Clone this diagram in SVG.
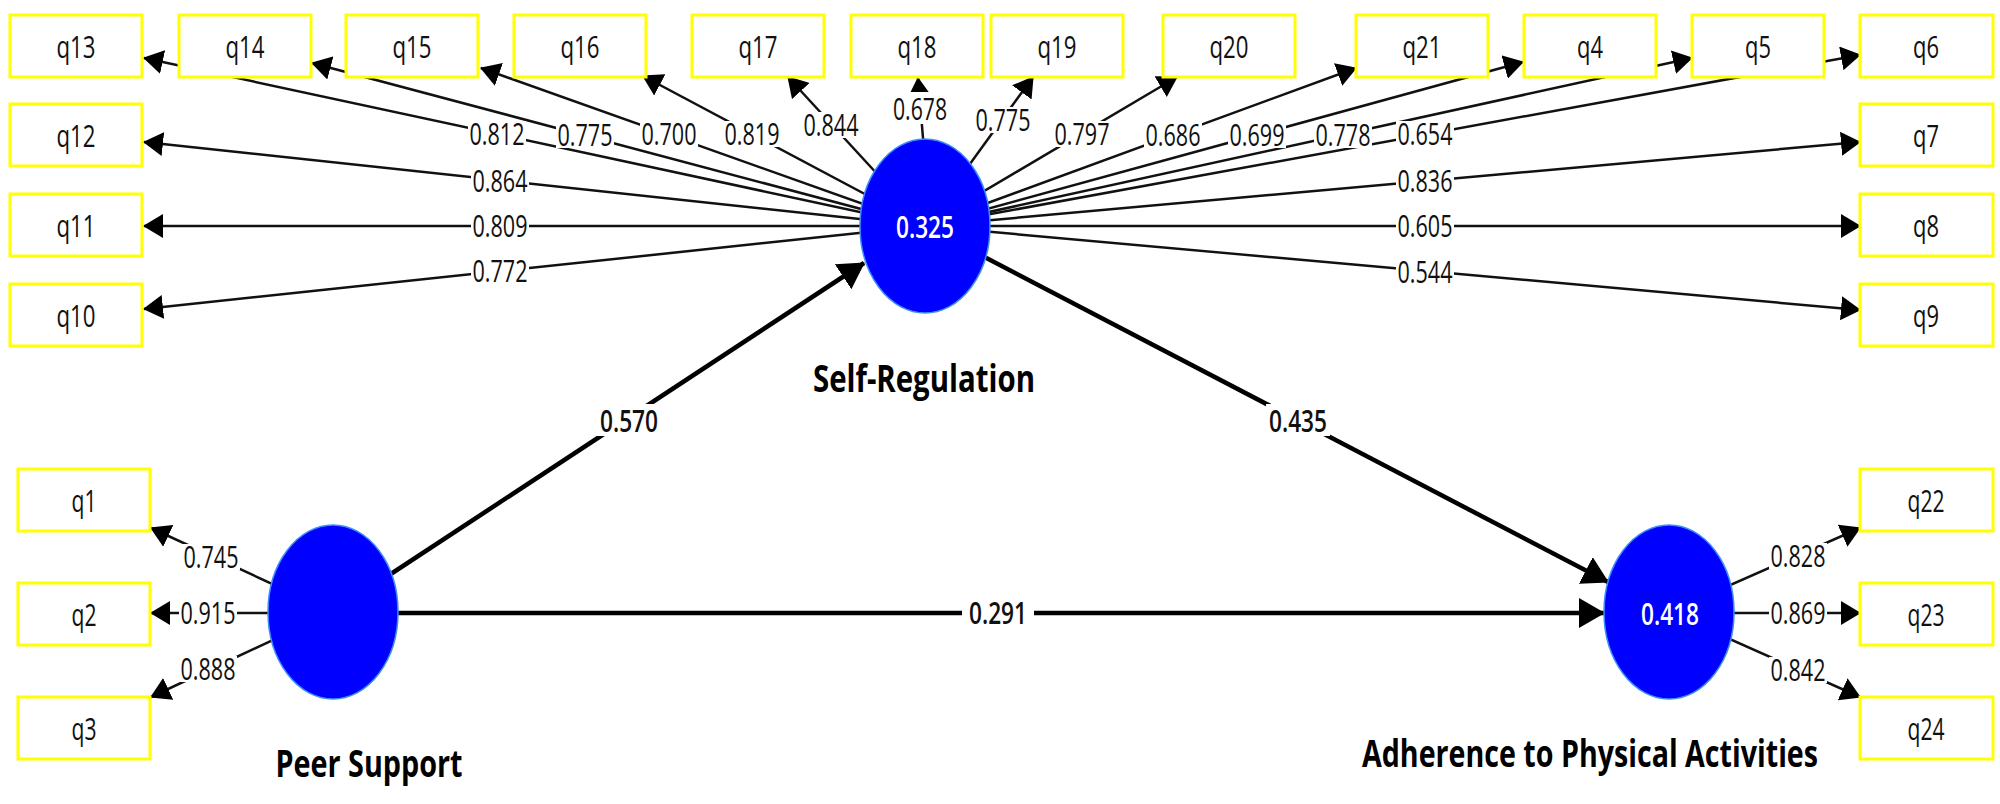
<svg xmlns="http://www.w3.org/2000/svg" width="2000" height="804" viewBox="0 0 2000 804">
<style>
.box{fill:#fff;stroke:#ffff00;stroke-width:3}
.lv{fill:#0000ff;stroke:#3c8cff;stroke-width:1.5}
.ln{stroke:#111;stroke-width:2.5;fill:none;marker-end:url(#ah)}
.sp{stroke:#000;stroke-width:4.5;fill:none;marker-end:url(#ahb)}
.bg{fill:#fff}
text{font-family:"Open Sans","Noto Sans","Liberation Sans",sans-serif;fill:#111}
.t{font-size:31px;text-anchor:middle}
.n{font-size:31px;text-anchor:middle}
.s{font-size:31px;font-weight:600;text-anchor:middle}
.v{font-size:31px;font-weight:600;fill:#fff;text-anchor:middle}
.name{font-size:38px;font-weight:700;text-anchor:middle;fill:#000}
</style>
<defs>
<marker id="ah" markerUnits="userSpaceOnUse" viewBox="0 0 20 24" markerWidth="20" markerHeight="24" refX="19" refY="12" orient="auto"><path d="M0,0 L20,12 L0,24 z" fill="#000"/></marker>
<marker id="ahb" markerUnits="userSpaceOnUse" viewBox="0 0 26 30" markerWidth="26" markerHeight="30" refX="25" refY="15" orient="auto"><path d="M0,0 L26,15 L0,30 z" fill="#000"/></marker>
</defs>
<rect width="2000" height="804" fill="#fff"/>
<g id="connectors">
<line class="ln" x1="925" y1="226" x2="144" y2="58"/>
<line class="ln" x1="925" y1="226" x2="312" y2="63"/>
<line class="ln" x1="925" y1="226" x2="481" y2="68"/>
<line class="ln" x1="925" y1="226" x2="643" y2="76"/>
<line class="ln" x1="925" y1="226" x2="788" y2="77"/>
<line class="ln" x1="924" y1="150" x2="918" y2="78"/>
<line class="ln" x1="925" y1="226" x2="1033" y2="77"/>
<line class="ln" x1="925" y1="226" x2="1177" y2="77"/>
<line class="ln" x1="925" y1="226" x2="1356" y2="68"/>
<line class="ln" x1="925" y1="226" x2="1523" y2="62"/>
<line class="ln" x1="925" y1="226" x2="1692" y2="58"/>
<line class="ln" x1="925" y1="226" x2="1860" y2="55"/>
<line class="ln" x1="925" y1="226" x2="1860" y2="142"/>
<line class="ln" x1="925" y1="226" x2="1860" y2="226"/>
<line class="ln" x1="925" y1="226" x2="1860" y2="310"/>
<line class="ln" x1="925" y1="226" x2="144" y2="142"/>
<line class="ln" x1="925" y1="226" x2="144" y2="226"/>
<line class="ln" x1="925" y1="226" x2="144" y2="309"/>
<line class="ln" x1="333" y1="612" x2="151" y2="528"/>
<line class="ln" x1="333" y1="613" x2="151" y2="613"/>
<line class="ln" x1="333" y1="612" x2="151" y2="697"/>
<line class="ln" x1="1669" y1="612" x2="1860" y2="528"/>
<line class="ln" x1="1669" y1="613" x2="1860" y2="613"/>
<line class="ln" x1="1669" y1="612" x2="1860" y2="697"/>
<line class="sp" x1="333" y1="612" x2="864" y2="263"/>
<line class="sp" x1="925" y1="226" x2="1608" y2="582"/>
<line class="sp" x1="333" y1="613" x2="1604" y2="613"/>
<g id="labels">
<rect class="bg" x="468" y="121" width="58" height="26"/><text class="n" x="497" y="145" textLength="55" lengthAdjust="spacingAndGlyphs">0.812</text>
<rect class="bg" x="556" y="122" width="58" height="26"/><text class="n" x="585" y="146" textLength="55" lengthAdjust="spacingAndGlyphs">0.775</text>
<rect class="bg" x="640" y="121" width="58" height="26"/><text class="n" x="669" y="145" textLength="55" lengthAdjust="spacingAndGlyphs">0.700</text>
<rect class="bg" x="723" y="121" width="58" height="26"/><text class="n" x="752" y="145" textLength="55" lengthAdjust="spacingAndGlyphs">0.819</text>
<rect class="bg" x="802" y="112" width="58" height="26"/><text class="n" x="831" y="136" textLength="55" lengthAdjust="spacingAndGlyphs">0.844</text>
<rect class="bg" x="891" y="92" width="58" height="32"/><text class="n" x="920" y="120" textLength="54" lengthAdjust="spacingAndGlyphs">0.678</text>
<rect class="bg" x="974" y="107" width="58" height="26"/><text class="n" x="1003" y="131" textLength="55" lengthAdjust="spacingAndGlyphs">0.775</text>
<rect class="bg" x="1053" y="121" width="58" height="26"/><text class="n" x="1082" y="145" textLength="55" lengthAdjust="spacingAndGlyphs">0.797</text>
<rect class="bg" x="1144" y="122" width="58" height="26"/><text class="n" x="1173" y="146" textLength="55" lengthAdjust="spacingAndGlyphs">0.686</text>
<rect class="bg" x="1228" y="122" width="58" height="26"/><text class="n" x="1257" y="146" textLength="55" lengthAdjust="spacingAndGlyphs">0.699</text>
<rect class="bg" x="1314" y="122" width="58" height="26"/><text class="n" x="1343" y="146" textLength="55" lengthAdjust="spacingAndGlyphs">0.778</text>
<rect class="bg" x="1396" y="121" width="58" height="26"/><text class="n" x="1425" y="145" textLength="55" lengthAdjust="spacingAndGlyphs">0.654</text>
<rect class="bg" x="1396" y="168" width="58" height="26"/><text class="n" x="1425" y="192" textLength="55" lengthAdjust="spacingAndGlyphs">0.836</text>
<rect class="bg" x="1396" y="213" width="58" height="26"/><text class="n" x="1425" y="237" textLength="55" lengthAdjust="spacingAndGlyphs">0.605</text>
<rect class="bg" x="1396" y="259" width="58" height="26"/><text class="n" x="1425" y="283" textLength="55" lengthAdjust="spacingAndGlyphs">0.544</text>
<rect class="bg" x="471" y="168" width="58" height="26"/><text class="n" x="500" y="192" textLength="55" lengthAdjust="spacingAndGlyphs">0.864</text>
<rect class="bg" x="471" y="213" width="58" height="26"/><text class="n" x="500" y="237" textLength="55" lengthAdjust="spacingAndGlyphs">0.809</text>
<rect class="bg" x="471" y="258" width="58" height="26"/><text class="n" x="500" y="282" textLength="55" lengthAdjust="spacingAndGlyphs">0.772</text>
<rect class="bg" x="182" y="544" width="58" height="26"/><text class="n" x="211" y="568" textLength="55" lengthAdjust="spacingAndGlyphs">0.745</text>
<rect class="bg" x="179" y="600" width="58" height="26"/><text class="n" x="208" y="624" textLength="55" lengthAdjust="spacingAndGlyphs">0.915</text>
<rect class="bg" x="179" y="656" width="58" height="26"/><text class="n" x="208" y="680" textLength="55" lengthAdjust="spacingAndGlyphs">0.888</text>
<rect class="bg" x="1769" y="543" width="58" height="26"/><text class="n" x="1798" y="567" textLength="55" lengthAdjust="spacingAndGlyphs">0.828</text>
<rect class="bg" x="1769" y="600" width="58" height="26"/><text class="n" x="1798" y="624" textLength="55" lengthAdjust="spacingAndGlyphs">0.869</text>
<rect class="bg" x="1769" y="657" width="58" height="26"/><text class="n" x="1798" y="681" textLength="55" lengthAdjust="spacingAndGlyphs">0.842</text>
<rect class="bg" x="597" y="404" width="64" height="32"/><text class="s" x="629" y="432" textLength="58" lengthAdjust="spacingAndGlyphs">0.570</text>
<rect class="bg" x="1266" y="404" width="64" height="32"/><text class="s" x="1298" y="432" textLength="58" lengthAdjust="spacingAndGlyphs">0.435</text>
<rect class="bg" x="962" y="597" width="72" height="32"/><text class="s" x="998" y="624" textLength="58" lengthAdjust="spacingAndGlyphs">0.291</text>
</g>
</g>
<g id="node-q13"><rect class="box" x="10" y="15" width="132" height="62"/><text class="t" x="76" y="58" textLength="39" lengthAdjust="spacingAndGlyphs">q13</text></g>
<g id="node-q14"><rect class="box" x="179" y="15" width="132" height="62"/><text class="t" x="245" y="58" textLength="39" lengthAdjust="spacingAndGlyphs">q14</text></g>
<g id="node-q15"><rect class="box" x="346" y="15" width="132" height="62"/><text class="t" x="412" y="58" textLength="39" lengthAdjust="spacingAndGlyphs">q15</text></g>
<g id="node-q16"><rect class="box" x="514" y="15" width="132" height="62"/><text class="t" x="580" y="58" textLength="39" lengthAdjust="spacingAndGlyphs">q16</text></g>
<g id="node-q17"><rect class="box" x="692" y="15" width="132" height="62"/><text class="t" x="758" y="58" textLength="39" lengthAdjust="spacingAndGlyphs">q17</text></g>
<g id="node-q18"><rect class="box" x="851" y="15" width="132" height="62"/><text class="t" x="917" y="58" textLength="39" lengthAdjust="spacingAndGlyphs">q18</text></g>
<g id="node-q19"><rect class="box" x="991" y="15" width="132" height="62"/><text class="t" x="1057" y="58" textLength="39" lengthAdjust="spacingAndGlyphs">q19</text></g>
<g id="node-q20"><rect class="box" x="1163" y="15" width="132" height="62"/><text class="t" x="1229" y="58" textLength="39" lengthAdjust="spacingAndGlyphs">q20</text></g>
<g id="node-q21"><rect class="box" x="1356" y="15" width="132" height="62"/><text class="t" x="1422" y="58" textLength="39" lengthAdjust="spacingAndGlyphs">q21</text></g>
<g id="node-q4"><rect class="box" x="1524" y="15" width="132" height="62"/><text class="t" x="1590" y="58" textLength="26" lengthAdjust="spacingAndGlyphs">q4</text></g>
<g id="node-q5"><rect class="box" x="1692" y="15" width="132" height="62"/><text class="t" x="1758" y="58" textLength="26" lengthAdjust="spacingAndGlyphs">q5</text></g>
<g id="node-q6"><rect class="box" x="1860" y="15" width="133" height="62"/><text class="t" x="1926" y="58" textLength="26" lengthAdjust="spacingAndGlyphs">q6</text></g>
<g id="node-q12"><rect class="box" x="10" y="104" width="132" height="62"/><text class="t" x="76" y="147" textLength="39" lengthAdjust="spacingAndGlyphs">q12</text></g>
<g id="node-q11"><rect class="box" x="10" y="194" width="132" height="62"/><text class="t" x="76" y="237" textLength="39" lengthAdjust="spacingAndGlyphs">q11</text></g>
<g id="node-q10"><rect class="box" x="10" y="284" width="132" height="62"/><text class="t" x="76" y="327" textLength="39" lengthAdjust="spacingAndGlyphs">q10</text></g>
<g id="node-q7"><rect class="box" x="1860" y="104" width="133" height="62"/><text class="t" x="1926" y="147" textLength="26" lengthAdjust="spacingAndGlyphs">q7</text></g>
<g id="node-q8"><rect class="box" x="1860" y="194" width="133" height="62"/><text class="t" x="1926" y="237" textLength="26" lengthAdjust="spacingAndGlyphs">q8</text></g>
<g id="node-q9"><rect class="box" x="1860" y="284" width="133" height="62"/><text class="t" x="1926" y="327" textLength="26" lengthAdjust="spacingAndGlyphs">q9</text></g>
<g id="node-q1"><rect class="box" x="18" y="469" width="132" height="62"/><text class="t" x="84" y="512" textLength="25" lengthAdjust="spacingAndGlyphs">q1</text></g>
<g id="node-q2"><rect class="box" x="18" y="583" width="132" height="62"/><text class="t" x="84" y="626" textLength="25" lengthAdjust="spacingAndGlyphs">q2</text></g>
<g id="node-q3"><rect class="box" x="18" y="697" width="132" height="62"/><text class="t" x="84" y="740" textLength="25" lengthAdjust="spacingAndGlyphs">q3</text></g>
<g id="node-q22"><rect class="box" x="1860" y="469" width="133" height="62"/><text class="t" x="1926" y="512" textLength="37" lengthAdjust="spacingAndGlyphs">q22</text></g>
<g id="node-q23"><rect class="box" x="1860" y="583" width="133" height="62"/><text class="t" x="1926" y="626" textLength="37" lengthAdjust="spacingAndGlyphs">q23</text></g>
<g id="node-q24"><rect class="box" x="1860" y="697" width="133" height="62"/><text class="t" x="1926" y="740" textLength="37" lengthAdjust="spacingAndGlyphs">q24</text></g>
<g id="node-self-regulation"><ellipse class="lv" cx="925" cy="226" rx="65" ry="87"/><text class="v" x="925" y="238" textLength="58" lengthAdjust="spacingAndGlyphs">0.325</text><text class="name" x="924" y="392" textLength="222" lengthAdjust="spacingAndGlyphs">Self-Regulation</text></g>
<g id="node-peer-support"><ellipse class="lv" cx="333" cy="612" rx="65" ry="87"/><text class="name" x="369" y="777" textLength="187" lengthAdjust="spacingAndGlyphs">Peer Support</text></g>
<g id="node-adherence"><ellipse class="lv" cx="1669" cy="612" rx="65" ry="87"/><text class="v" x="1670" y="625" textLength="58" lengthAdjust="spacingAndGlyphs">0.418</text><text class="name" transform="translate(1590,767) scale(0.75,1)" x="0" y="0" textLength="608" lengthAdjust="spacingAndGlyphs">Adherence to Physical Activities</text></g>
</svg>
